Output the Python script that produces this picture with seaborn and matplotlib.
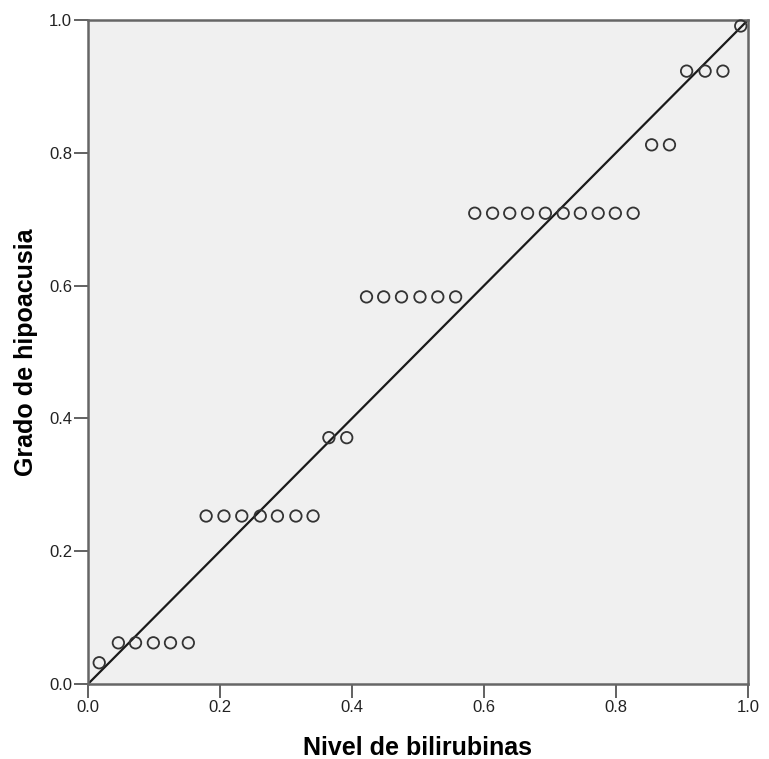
import matplotlib
matplotlib.use("Agg")
import matplotlib.pyplot as plt
import seaborn as sns
import pandas as pd

obs_prob = [0.017,
            0.046, 0.072, 0.099, 0.125, 0.152,
            0.179, 0.206, 0.233, 0.261, 0.287, 0.315, 0.341,
            0.365, 0.392,
            0.422, 0.448, 0.475, 0.503, 0.530, 0.557,
            0.586, 0.613, 0.639, 0.666, 0.693, 0.720, 0.746, 0.773, 0.799, 0.826,
            0.854, 0.881,
            0.907, 0.935, 0.962,
            0.989]
exp_prob = [0.032,
            0.062, 0.062, 0.062, 0.062, 0.062,
            0.253, 0.253, 0.253, 0.253, 0.253, 0.253, 0.253,
            0.371, 0.371,
            0.583, 0.583, 0.583, 0.583, 0.583, 0.583,
            0.709, 0.709, 0.709, 0.709, 0.709, 0.709, 0.709, 0.709, 0.709, 0.709,
            0.812, 0.812,
            0.923, 0.923, 0.923,
            0.991]
ref_line = [0.0, 1.0]
ticks = [0.0, 0.2, 0.4, 0.6, 0.8, 1.0]

df = pd.DataFrame({"x": obs_prob, "y": exp_prob})

sns.set_style("white")
plt.rcParams["font.family"] = ["Liberation Sans", "DejaVu Sans"]

fig = plt.figure(figsize=(7.69, 7.59), dpi=100)
ax = fig.add_axes([88 / 769, 1 - 684 / 759, 660 / 769, 664 / 759])
ax.set_facecolor("#f0f0f0")

sns.lineplot(x=ref_line, y=ref_line, color="#1a1a1a", linewidth=1.6, ax=ax)
sns.scatterplot(data=df, x="x", y="y", s=68, facecolor="none",
                edgecolor="#333333", linewidth=1.3, ax=ax, zorder=3, clip_on=False)

ax.set_xlim(0, 1)
ax.set_ylim(0, 1)
ax.set_xticks(ticks)
ax.set_yticks(ticks)
ax.set_xticklabels([f"{t:.1f}" for t in ticks])
ax.set_yticklabels([f"{t:.1f}" for t in ticks])
ax.tick_params(direction="out", length=10, width=1.3, color="#555555",
               labelsize=12, labelcolor="#222222", bottom=True, left=True, pad=1.5)
for s in ax.spines.values():
    s.set_color("#666666")
    s.set_linewidth(1.8)

ax.set_xlabel("Nivel de bilirubinas", fontsize=18, fontweight="bold",
              labelpad=15, color="black")
ax.set_ylabel("Grado de hipoacusia", fontsize=18, fontweight="bold",
              labelpad=8, color="black")

fig.savefig("out.png", dpi=100, facecolor="white")
